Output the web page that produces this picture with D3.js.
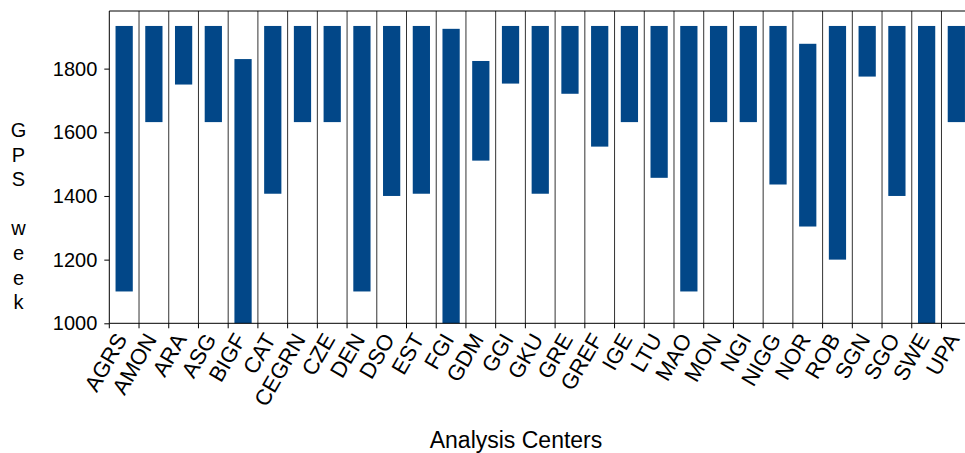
<!DOCTYPE html>
<html>
<head>
<meta charset="utf-8">
<script src="https://cdn.jsdelivr.net/npm/d3@7"></script>
<style>
  body { margin: 0; background: #fff; overflow: hidden; }
  svg { display: block; font-family: "Liberation Sans", Arial, sans-serif; }
</style>
</head>
<body>
<div id="chart"></div>
<script>
// analysis centres and the span of GPS weeks each one covers
const centers = ["AGRS", "AMON", "ARA", "ASG", "BIGF", "CAT", "CEGRN", "CZE", "DEN", "DSO",
  "EST", "FGI", "GDM", "GGI", "GKU", "GRE", "GREF", "IGE", "LTU", "MAO",
  "MON", "NGI", "NIGG", "NOR", "ROB", "SGN", "SGO", "SWE", "UPA"];
const startWeek = [1100, 1632, 1750, 1632, 1000, 1407, 1632, 1632, 1100, 1400,
  1407, 1000, 1511, 1753, 1407, 1721, 1555, 1632, 1457, 1100,
  1632, 1632, 1436, 1304, 1200, 1775, 1400, 1000, 1632];
const endWeek = [1934, 1934, 1934, 1934, 1830, 1934, 1934, 1934, 1934, 1934,
  1934, 1925, 1824, 1934, 1934, 1934, 1934, 1934, 1934, 1934,
  1934, 1934, 1934, 1878, 1934, 1934, 1934, 1934, 1934];
const yTicks = [1000, 1200, 1400, 1600, 1800];
const yLabel = "GPS week";
const xLabel = "Analysis Centers";

const W = 965, H = 453;
const margin = { top: 11, left: 109.3, bottom: 129.7 };
const plotW = 861.9; // runs past the window edge, as in the original
const plotH = H - margin.top - margin.bottom;
const barColor = "#024788";

const rows = centers.map((c, i) => ({ name: c, from: startWeek[i], to: endWeek[i] }));

const svg = d3.select("#chart").append("svg")
  .attr("width", W)
  .attr("height", H);

const x = d3.scaleBand()
  .domain(centers)
  .range([margin.left, margin.left + plotW])
  .paddingInner(0.42)
  .paddingOuter(0.21);

const y = d3.scaleLinear()
  .domain([1000, 1981])
  .range([margin.top + plotH, margin.top]);

const step = x.step();
const x0 = margin.left;
const yBottom = y(1000);

// vertical separators between centres
svg.append("g")
  .selectAll("line")
  .data(d3.range(1, centers.length + 1))
  .enter()
  .append("line")
  .attr("x1", (k) => x0 + k * step)
  .attr("x2", (k) => x0 + k * step)
  .attr("y1", margin.top)
  .attr("y2", yBottom)
  .attr("stroke", "#333")
  .attr("stroke-width", 1);

// floating bars
svg.append("g")
  .selectAll("rect")
  .data(rows)
  .enter()
  .append("rect")
  .attr("x", (d) => x(d.name))
  .attr("width", x.bandwidth())
  .attr("y", (d) => y(d.to))
  .attr("height", (d) => y(d.from) - y(d.to))
  .attr("fill", barColor);

// frame: left, top
svg.append("line")
  .attr("x1", x0).attr("x2", x0)
  .attr("y1", margin.top).attr("y2", yBottom)
  .attr("stroke", "#000");
svg.append("line")
  .attr("x1", x0).attr("x2", x0 + plotW)
  .attr("y1", margin.top).attr("y2", margin.top)
  .attr("stroke", "#000");

// y axis
const yAxis = svg.append("g")
  .attr("transform", "translate(" + x0 + ",0)")
  .call(d3.axisLeft(y).tickValues(yTicks).tickSize(5).tickPadding(7).tickFormat(d3.format("d")));
yAxis.select(".domain").remove();
yAxis.selectAll(".tick line").attr("stroke", "#000");
yAxis.selectAll(".tick text")
  .attr("font-size", 20)
  .attr("fill", "#000")
  .attr("font-family", "Liberation Sans, Arial, sans-serif");

// x axis: ticks on the band edges, labels on the band centres
const xg = svg.append("g");
xg.append("line")
  .attr("x1", x0).attr("x2", x0 + plotW)
  .attr("y1", yBottom).attr("y2", yBottom)
  .attr("stroke", "#000");
xg.selectAll(".xtick")
  .data(d3.range(0, centers.length + 1))
  .enter()
  .append("line")
  .attr("class", "xtick")
  .attr("x1", (k) => x0 + k * step)
  .attr("x2", (k) => x0 + k * step)
  .attr("y1", yBottom)
  .attr("y2", yBottom + 5)
  .attr("stroke", "#000");
xg.selectAll(".xlab")
  .data(centers)
  .enter()
  .append("text")
  .attr("class", "xlab")
  .attr("transform", (d) => "translate(" + (x(d) + x.bandwidth() / 2 - 3) + "," + (yBottom + 12) + ") rotate(-60)")
  .attr("text-anchor", "end")
  .attr("dy", "0.35em")
  .attr("font-size", 22)
  .attr("fill", "#000")
  .text((d) => d);

// stacked y label, one letter per line
svg.append("g")
  .selectAll("text")
  .data(yLabel.split(""))
  .enter()
  .append("text")
  .attr("x", 18.5)
  .attr("y", (d, i) => 137 + i * 24.6)
  .attr("text-anchor", "middle")
  .attr("font-size", 20)
  .attr("fill", "#000")
  .text((d) => d);

svg.append("text")
  .attr("x", 516)
  .attr("y", 448)
  .attr("text-anchor", "middle")
  .attr("font-size", 23)
  .attr("fill", "#000")
  .text(xLabel);
</script>
</body>
</html>
